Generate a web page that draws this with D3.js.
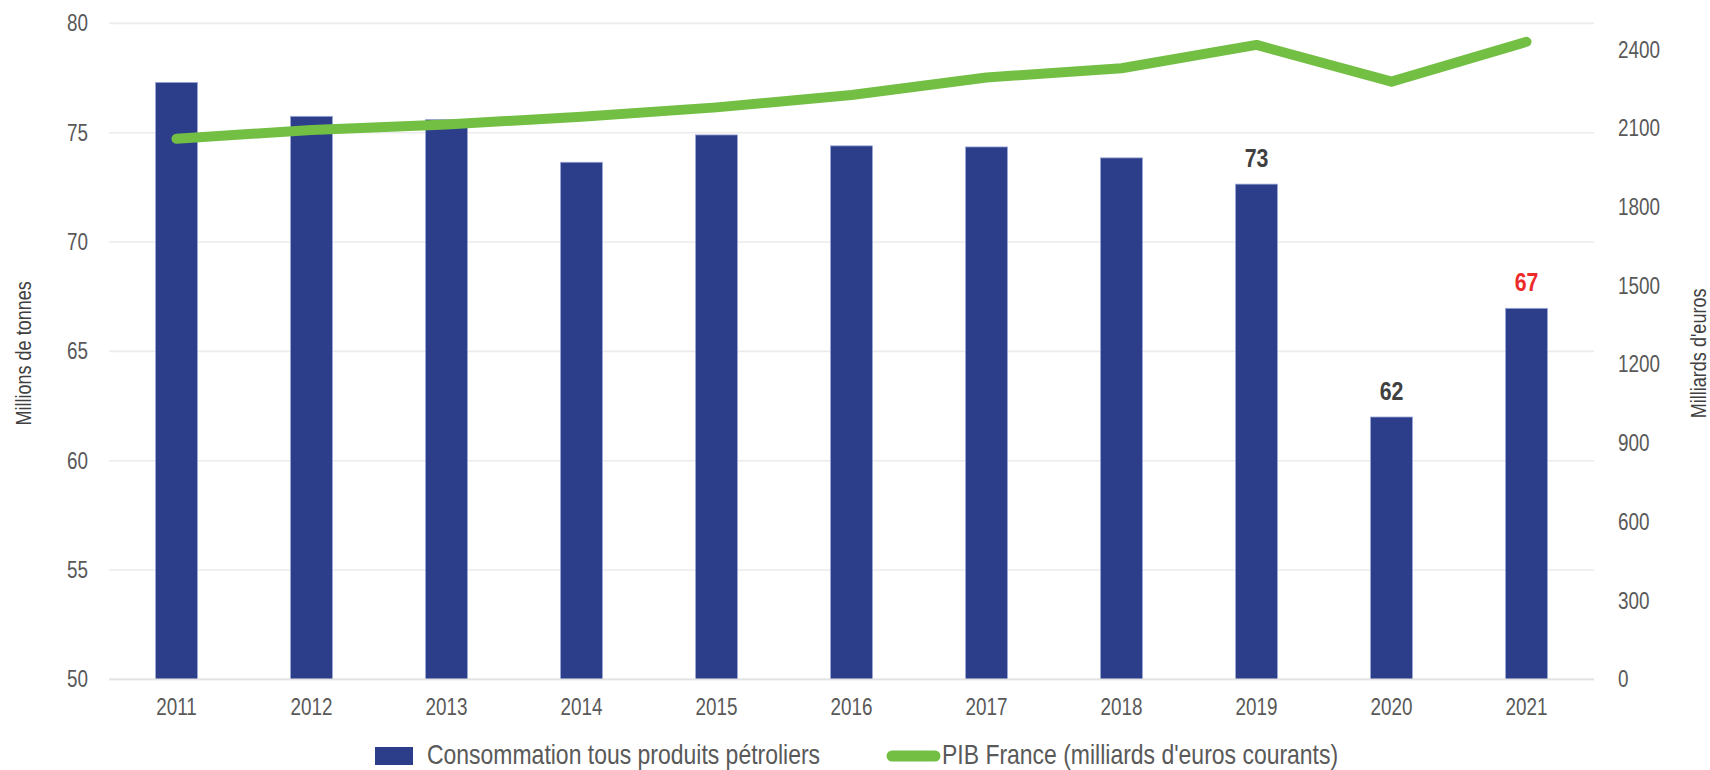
<!DOCTYPE html>
<html lang="fr">
<head>
<meta charset="utf-8">
<title>Consommation de produits pétroliers et PIB France</title>
<script src="https://cdn.jsdelivr.net/npm/d3@7"></script>
<style>
  html, body { margin: 0; padding: 0; background: #ffffff; }
  svg { display: block; }
  .narrow { font-family: "Liberation Sans", Arial, sans-serif; }
</style>
</head>
<body>
<svg id="chart" width="1710" height="770"></svg>
<script>
// Années
const years = ["2011", "2012", "2013", "2014", "2015", "2016", "2017", "2018", "2019", "2020", "2021"];
// Consommation tous produits pétroliers (millions de tonnes)
const consommation = [77.3, 75.75, 75.6, 73.65, 74.9, 74.4, 74.35, 73.85, 72.65, 62.0, 66.97];
// PIB France (milliards d'euros courants)
const pib = [2060, 2094, 2115, 2144, 2180, 2227, 2294, 2329, 2418, 2278, 2430];
// Années dont la valeur est affichée au-dessus de la barre
const labelledYears = ["2019", "2020", "2021"];
const highlightYear = "2021";
// Graduations des deux axes
const leftTicks = [50, 55, 60, 65, 70, 75, 80];
const rightTicks = [0, 300, 600, 900, 1200, 1500, 1800, 2100, 2400];

const barColor = "#2c3e8a";
const lineColor = "#73bf44";
const textColor = "#595959";
const gridColor = "#ebebeb";

// Police étroite : on resserre horizontalement le texte rendu
const NARROW = 0.82;
function condense(sel) {
  sel.each(function () {
    const w = this.getComputedTextLength();
    if (w > 0) {
      this.setAttribute("textLength", (w * NARROW).toFixed(2));
      this.setAttribute("lengthAdjust", "spacingAndGlyphs");
    }
  });
}

const svg = d3.select("#chart");
const plot = { left: 109, right: 1594, top: 23.4, bottom: 679.4 };

const x = d3.scaleBand()
  .domain(years)
  .range([plot.left, plot.right])
  .paddingInner(0.69)
  .paddingOuter(0.345);

const yLeft = d3.scaleLinear().domain([50, 80]).range([plot.bottom, plot.top]);
const yRight = d3.scaleLinear().domain([0, 2500]).range([plot.bottom, plot.top]);

// Quadrillage horizontal
svg.append("g")
  .selectAll("line")
  .data(leftTicks)
  .join("line")
  .attr("x1", plot.left)
  .attr("x2", plot.right)
  .attr("y1", d => yLeft(d))
  .attr("y2", d => yLeft(d))
  .attr("stroke", gridColor)
  .attr("stroke-width", 1.6);

// Axe gauche
const leftAxis = svg.append("g")
  .attr("class", "narrow")
  .attr("transform", `translate(88,0)`)
  .call(d3.axisLeft(yLeft).tickValues(leftTicks).tickFormat(d3.format("d")).tickSize(0).tickPadding(0));
leftAxis.select(".domain").remove();
leftAxis.selectAll("text")
  .attr("font-size", 23)
  .attr("font-family", null)
  .attr("fill", textColor)
  .call(condense);

// Axe droit
const rightAxis = svg.append("g")
  .attr("class", "narrow")
  .attr("transform", `translate(1618,0)`)
  .call(d3.axisRight(yRight).tickValues(rightTicks).tickFormat(d3.format("d")).tickSize(0).tickPadding(0));
rightAxis.select(".domain").remove();
rightAxis.selectAll("text")
  .attr("font-size", 23)
  .attr("font-family", null)
  .attr("fill", textColor)
  .call(condense);

// Axe des années
const bottomAxis = svg.append("g")
  .attr("class", "narrow")
  .attr("transform", `translate(0,${plot.bottom})`)
  .call(d3.axisBottom(x).tickSize(0).tickPadding(0));
bottomAxis.select(".domain").remove();
bottomAxis.selectAll("text")
  .attr("font-size", 23)
  .attr("font-family", null)
  .attr("fill", textColor)
  .attr("dy", null)
  .attr("y", 36)
  .call(condense);

// Titres des axes
svg.append("text")
  .attr("class", "narrow")
  .attr("transform", `translate(31,${(plot.top + plot.bottom) / 2 + 2}) rotate(-90)`)
  .attr("text-anchor", "middle")
  .attr("font-size", 22)
  .attr("fill", "#404040")
  .text("Millions de tonnes")
  .call(condense);

svg.append("text")
  .attr("class", "narrow")
  .attr("transform", `translate(1706,${(plot.top + plot.bottom) / 2 + 2}) rotate(-90)`)
  .attr("text-anchor", "middle")
  .attr("font-size", 22)
  .attr("fill", "#404040")
  .text("Milliards d'euros")
  .call(condense);

// Barres de consommation
const barData = years.map((year, i) => ({ year, value: consommation[i] }));
svg.append("g")
  .selectAll("rect")
  .data(barData)
  .join("rect")
  .attr("x", d => x(d.year))
  .attr("width", x.bandwidth())
  .attr("y", d => yLeft(d.value))
  .attr("height", d => yLeft(50) - yLeft(d.value))
  .attr("fill", barColor)
  .attr("stroke", "#9aa6d6")
  .attr("stroke-width", 0.8);

// Axe horizontal de base
svg.append("line")
  .attr("x1", plot.left)
  .attr("x2", plot.right)
  .attr("y1", yLeft(50))
  .attr("y2", yLeft(50))
  .attr("stroke", "#e3e3e3")
  .attr("stroke-width", 1.6);

// Courbe du PIB
const lineData = years.map((year, i) => ({ year, value: pib[i] }));
const line = d3.line()
  .x(d => x(d.year) + x.bandwidth() / 2)
  .y(d => yRight(d.value));
svg.append("path")
  .datum(lineData)
  .attr("d", line)
  .attr("fill", "none")
  .attr("stroke", lineColor)
  .attr("stroke-width", 10)
  .attr("stroke-linecap", "round")
  .attr("stroke-linejoin", "round");

// Étiquettes de valeur
const fmt = d3.format(".0f");
svg.append("g")
  .attr("class", "narrow")
  .selectAll("text")
  .data(barData.filter(d => labelledYears.includes(d.year)))
  .join("text")
  .attr("x", d => x(d.year) + x.bandwidth() / 2)
  .attr("y", d => yLeft(d.value) - 17)
  .attr("text-anchor", "middle")
  .attr("font-size", 26)
  .attr("font-weight", "bold")
  .attr("fill", d => d.year === highlightYear ? "#ee2a2a" : "#404040")
  .text(d => fmt(d.value))
  .call(condense);

// Légende
const legend = svg.append("g").attr("class", "narrow");
legend.append("rect")
  .attr("x", 375).attr("y", 747)
  .attr("width", 38).attr("height", 18)
  .attr("fill", barColor);
legend.append("text")
  .attr("x", 427).attr("y", 764)
  .attr("font-size", 28)
  .attr("fill", textColor)
  .text("Consommation tous produits pétroliers")
  .call(condense);
legend.append("line")
  .attr("x1", 892).attr("x2", 935)
  .attr("y1", 756).attr("y2", 756)
  .attr("stroke", lineColor)
  .attr("stroke-width", 11)
  .attr("stroke-linecap", "round");
legend.append("text")
  .attr("x", 942).attr("y", 764)
  .attr("font-size", 28)
  .attr("fill", textColor)
  .text("PIB France (milliards d'euros courants)")
  .call(condense);
</script>
</body>
</html>
